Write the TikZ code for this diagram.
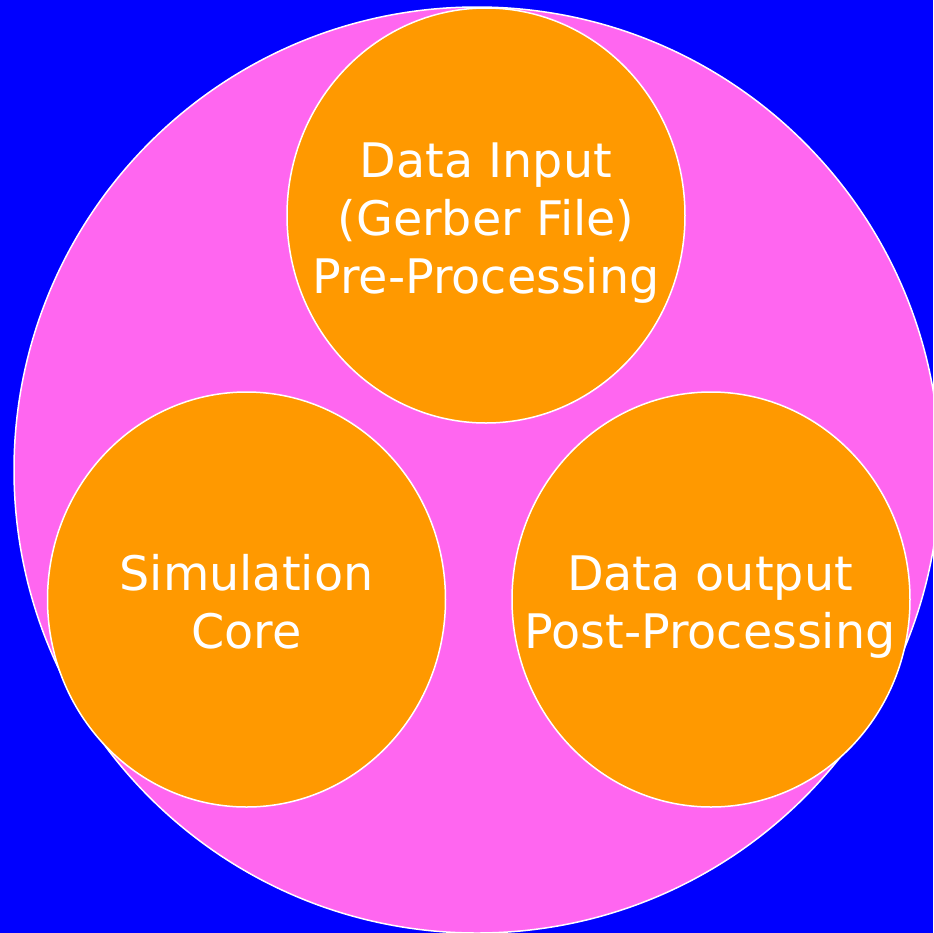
\documentclass[tikz,border=0pt]{standalone}
\usepackage{fontspec}
\setmainfont{DejaVu Sans}
\usetikzlibrary{shapes.geometric}
\definecolor{bgblue}{HTML}{0000FF}
\definecolor{ringpink}{HTML}{FF66F0}
\definecolor{stageorange}{HTML}{FF9900}
\tikzset{
  outer/.style={circle, fill=ringpink, draw=white, line width=0.75pt, minimum size=463pt, inner sep=0pt},
  stage/.style={ellipse, fill=stageorange, draw=white, line width=0.75pt,
    minimum width=199pt, minimum height=207.5pt, inner sep=0pt},
  caption/.style={text=white, align=center, anchor=base, inner sep=0pt,
    font=\fontsize{23.8}{29}\selectfont}
}
\begin{document}
\begin{tikzpicture}[x=0.5pt,y=-0.5pt]
  \useasboundingbox (0,0) rectangle (933,933);
  \fill[bgblue] (0,0) rectangle (933,933);
  \begin{scope}
    \clip (0,0) rectangle (933,933);
    \node[outer] (ring) at (477,470) {};
  \end{scope}
  \node[stage] (input) at (486,215.5) {};
  \node[stage] (core) at (246.5,599.5) {};
  \node[stage] (output) at (711,599.5) {};
  % the base anchor of a multi-line caption sits on its last line
  \node[caption] (inputtext) at (486,293) {Data Input\\(Gerber File)\\Pre-Processing};
  \node[caption] (coretext) at (246.5,648) {Simulation\\Core};
  \node[caption] (outputtext) at (710,648) {Data output\\Post-Processing};
\end{tikzpicture}
\end{document}
